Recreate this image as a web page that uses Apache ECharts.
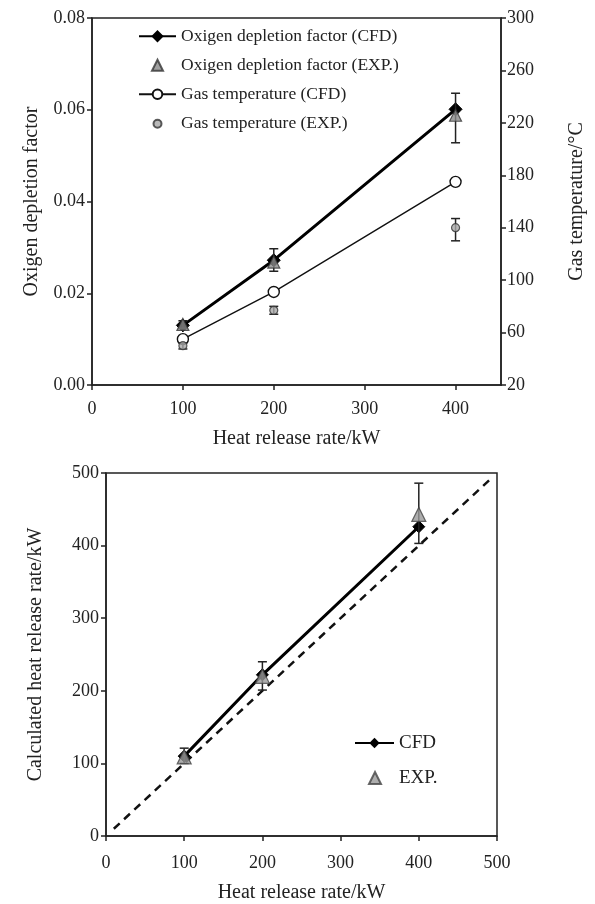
<!DOCTYPE html>
<html>
<head>
<meta charset="utf-8">
<script src="https://cdn.jsdelivr.net/npm/echarts@6/dist/echarts.min.js"></script>
<style>
html,body{margin:0;padding:0;background:#fff;}
#chart{width:595px;height:904px;}
</style>
</head>
<body>
<div id="chart"></div>
<script>
// ---- data: top chart ----
const hrr = [100, 200, 400];
const o2CFD = [0.0130, 0.0272, 0.0601];
const o2EXP = [0.0132, 0.0268, 0.0588];
const o2EXPlow = [0.0124, 0.0248, 0.0528];
const o2EXPhigh = [0.0140, 0.0297, 0.0636];
const tCFD = [55, 91, 175];
const tEXP = [50, 77, 140];
const tEXPlow = [47.5, 74, 130];
const tEXPhigh = [52, 80, 147];
const topXTicks = [0, 100, 200, 300, 400];
const topLeftTicks = [0, 0.02, 0.04, 0.06, 0.08];
const topRightTicks = [20, 60, 100, 140, 180, 220, 260, 300];
// ---- data: bottom chart ----
const calcX = [100, 200, 400];
const calcCFD = [110, 222, 426];
const calcEXP = [109, 220, 443];
const calcEXPlow = [100, 201, 403];
const calcEXPhigh = [121, 240, 486];
const refX = [10, 493];
const refY = [10, 493];
const botTicks = [0, 100, 200, 300, 400, 500];

const FONT = 'Liberation Serif';
const TXT = '#222';
const zip = (a, b) => a.map((v, i) => [v, b[i]]);

function errSeries(xi, yi, xs, lows, highs, z) {
  return {
    type: 'custom', xAxisIndex: xi, yAxisIndex: yi, z: z || 3,
    data: xs.map((x, i) => [x, lows[i], highs[i]]),
    encode: { x: 0, y: [1, 2] },
    silent: true,
    renderItem: function (params, api) {
      const lo = api.coord([api.value(0), api.value(1)]);
      const hi = api.coord([api.value(0), api.value(2)]);
      const w = 4.5;
      const st = { stroke: '#222', lineWidth: 1.5 };
      return {
        type: 'group', children: [
          { type: 'line', shape: { x1: lo[0], y1: lo[1], x2: hi[0], y2: hi[1] }, style: st },
          { type: 'line', shape: { x1: lo[0] - w, y1: lo[1], x2: lo[0] + w, y2: lo[1] }, style: st },
          { type: 'line', shape: { x1: hi[0] - w, y1: hi[1], x2: hi[0] + w, y2: hi[1] }, style: st }
        ]
      };
    }
  };
}

function legendItem(name, left, top, w, h, fs, padLeft) {
  return {
    left: left, top: top, padding: 0, orient: 'vertical', itemWidth: w, itemHeight: h,
    textStyle: { fontFamily: FONT, fontSize: fs, color: TXT, lineHeight: fs + 1, padding: [0, 0, 0, padLeft || 0] },
    data: [name]
  };
}

const axisLine = { lineStyle: { color: '#222', width: 1.5 } };
const axisTick = { show: true, inside: false, length: 5, lineStyle: { color: '#222', width: 1.5 } };
const labelStyle = { fontFamily: FONT, fontSize: 18, color: TXT };
const nameStyle = { fontFamily: FONT, fontSize: 20, color: TXT };

const option = {
  backgroundColor: '#fff',
  animation: false,
  textStyle: { fontFamily: FONT },
  grid: [
    { left: 92, top: 18, width: 410, height: 367, show: true, borderColor: '#222', borderWidth: 1.5, backgroundColor: 'transparent' },
    { left: 106, top: 473, width: 391, height: 366, show: true, borderColor: '#222', borderWidth: 1.5, backgroundColor: 'transparent' }
  ],
  legend: [
    legendItem('Oxigen depletion factor (CFD)', 138, 27, 37, 12, 17.5, 0),
    legendItem('Oxigen depletion factor (EXP.)', 151, 56, 11, 11, 17.5, 13),
    legendItem('Gas temperature (CFD)', 138, 85, 37, 12, 17.5, 0),
    legendItem('Gas temperature (EXP.)', 152.5, 114.5, 8, 8, 17.5, 14.5),
    legendItem('CFD', 354, 733, 39, 13, 19, 0),
    legendItem('EXP.', 368, 768, 12, 12, 19, 13)
  ],
  xAxis: [
    {
      type: 'value', gridIndex: 0, min: 0, max: 450, interval: 100,
      name: 'Heat release rate/kW', nameLocation: 'middle', nameGap: 44, nameTextStyle: nameStyle,
      axisLine: axisLine, axisTick: Object.assign({}, axisTick, { customValues: topXTicks }),
      axisLabel: Object.assign({}, labelStyle, { margin: 15, customValues: topXTicks }),
      splitLine: { show: false }
    },
    {
      type: 'value', gridIndex: 1, min: 0, max: 500, interval: 100,
      name: 'Heat release rate/kW', nameLocation: 'middle', nameGap: 47, nameTextStyle: nameStyle,
      axisLine: axisLine, axisTick: Object.assign({}, axisTick, { customValues: botTicks }),
      axisLabel: Object.assign({}, labelStyle, { margin: 18, customValues: botTicks }),
      splitLine: { show: false }
    }
  ],
  yAxis: [
    {
      type: 'value', gridIndex: 0, min: 0, max: 0.08, interval: 0.02, position: 'left',
      name: 'Oxigen depletion factor', nameLocation: 'middle', nameGap: 50, nameRotate: 90, nameTextStyle: nameStyle,
      axisLine: axisLine, axisTick: Object.assign({}, axisTick, { customValues: topLeftTicks }),
      axisLabel: Object.assign({}, labelStyle, { margin: 7, customValues: topLeftTicks, formatter: v => v.toFixed(2) }),
      splitLine: { show: false }
    },
    {
      type: 'value', gridIndex: 0, min: 20, max: 300, interval: 40, position: 'right',
      name: 'Gas temperature/°C', nameLocation: 'middle', nameGap: 66, nameRotate: 90, nameTextStyle: nameStyle,
      axisLine: Object.assign({ show: true }, axisLine), axisTick: Object.assign({}, axisTick, { customValues: topRightTicks }),
      axisLabel: Object.assign({}, labelStyle, { margin: 6, customValues: topRightTicks }),
      splitLine: { show: false }
    },
    {
      type: 'value', gridIndex: 1, min: 0, max: 500, interval: 100, position: 'left',
      name: 'Calculated heat release rate/kW', nameLocation: 'middle', nameGap: 60, nameRotate: 90, nameTextStyle: nameStyle,
      axisLine: axisLine, axisTick: Object.assign({}, axisTick, { customValues: botTicks }),
      axisLabel: Object.assign({}, labelStyle, { margin: 7, customValues: botTicks }),
      splitLine: { show: false }
    }
  ],
  series: [
    // top chart
    {
      name: 'Gas temperature (CFD)', type: 'line', xAxisIndex: 0, yAxisIndex: 1, z: 2,
      data: zip(hrr, tCFD), symbol: 'circle', symbolSize: 11,
      lineStyle: { color: '#111', width: 1.4 },
      itemStyle: { color: '#fff', borderColor: '#111', borderWidth: 1.4 }
    },
    errSeries(0, 1, hrr, tEXPlow, tEXPhigh, 3),
    {
      name: 'Gas temperature (EXP.)', type: 'scatter', xAxisIndex: 0, yAxisIndex: 1, z: 4,
      data: zip(hrr, tEXP), symbol: 'circle', symbolSize: 8,
      itemStyle: { color: '#a8a8a8', borderColor: '#333', borderWidth: 1.2 }
    },
    {
      name: 'Oxigen depletion factor (CFD)', type: 'line', xAxisIndex: 0, yAxisIndex: 0, z: 5,
      data: zip(hrr, o2CFD), symbol: 'diamond', symbolSize: 13,
      lineStyle: { color: '#000', width: 3 },
      itemStyle: { color: '#000', borderColor: '#000', borderWidth: 1 }
    },
    errSeries(0, 0, hrr, o2EXPlow, o2EXPhigh, 6),
    {
      name: 'Oxigen depletion factor (EXP.)', type: 'scatter', xAxisIndex: 0, yAxisIndex: 0, z: 7,
      data: zip(hrr, o2EXP), symbol: 'triangle', symbolSize: 12,
      itemStyle: { color: '#888', borderColor: '#333', borderWidth: 1.2 }
    },
    // bottom chart
    {
      name: 'ref', type: 'line', xAxisIndex: 1, yAxisIndex: 2, z: 2,
      data: zip(refX, refY), symbol: 'none',
      lineStyle: { color: '#111', width: 2.5, type: [8, 6] }
    },
    {
      name: 'CFD', type: 'line', xAxisIndex: 1, yAxisIndex: 2, z: 4,
      data: zip(calcX, calcCFD), symbol: 'diamond', symbolSize: 12,
      lineStyle: { color: '#000', width: 3 },
      itemStyle: { color: '#000', borderColor: '#000' }
    },
    errSeries(1, 2, calcX, calcEXPlow, calcEXPhigh, 5),
    {
      name: 'EXP.', type: 'scatter', xAxisIndex: 1, yAxisIndex: 2, z: 6,
      data: zip(calcX, calcEXP), symbol: 'triangle', symbolSize: 14,
      itemStyle: { color: '#999', borderColor: '#444', borderWidth: 1.2 }
    }
  ]
};

const chart = echarts.init(document.getElementById('chart'), null, { renderer: 'canvas' });
chart.setOption(option);
</script>
</body>
</html>
